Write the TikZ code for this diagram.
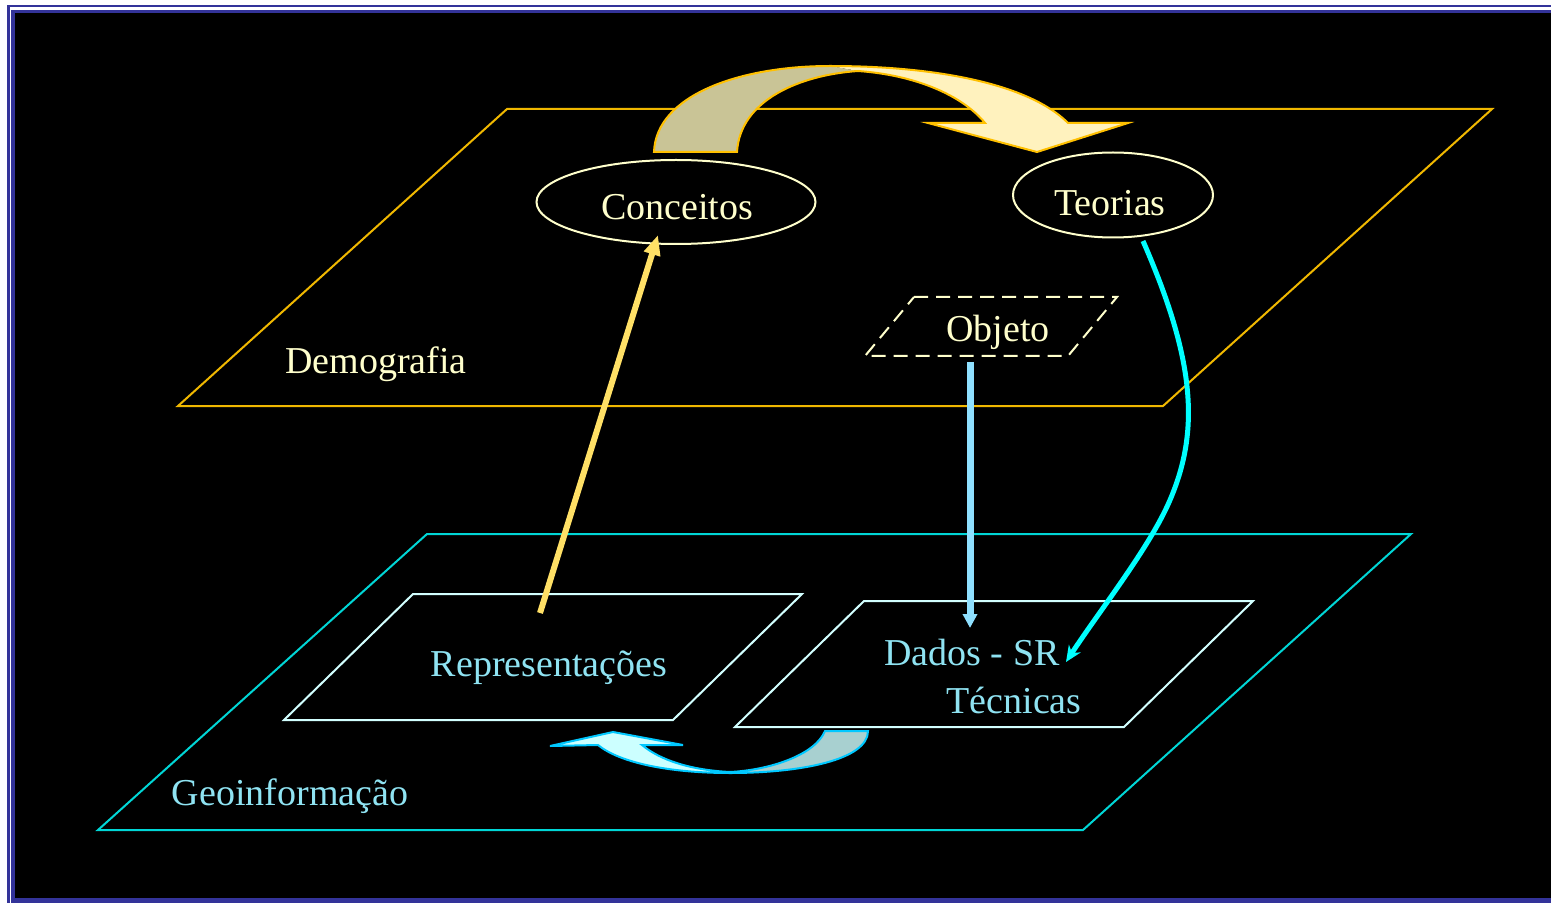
\documentclass[tikz,border=0pt]{standalone}
\usepackage{fontspec}
\setmainfont{Liberation Serif}
\usetikzlibrary{shapes.geometric,arrows.meta}
\definecolor{frameblue}{RGB}{51,51,153}
\definecolor{gold}{RGB}{240,184,0}
\definecolor{cream}{RGB}{255,255,204}
\definecolor{geocyan}{RGB}{0,214,214}
\definecolor{geotext}{RGB}{143,227,242}
\definecolor{subplane}{RGB}{210,255,255}
\definecolor{yarrow}{RGB}{255,224,102}
\definecolor{barrow}{RGB}{143,224,255}
\definecolor{tealarrow}{RGB}{0,255,255}
\definecolor{bigdark}{RGB}{201,196,150}
\definecolor{biglight}{RGB}{255,242,190}
\definecolor{bigline}{RGB}{255,192,0}
\definecolor{smdark}{RGB}{168,208,208}
\definecolor{smlight}{RGB}{204,255,255}
\definecolor{smline}{RGB}{0,200,255}
\begin{document}
\begin{tikzpicture}[x=0.5pt,y=-0.5pt,
  lbl/.style={font=\fontsize{19}{22}\selectfont, inner sep=0pt},
  demo/.style={lbl, text=cream},
  geo/.style={lbl, text=geotext},
  oval/.style={ellipse, draw=cream, line width=1pt, inner sep=0pt},
  plane/.style={line width=1pt, line join=miter},
]
\useasboundingbox (0,0) rectangle (1551,903);
\begin{scope}
\clip (0,0) rectangle (1551,903);
\fill[white] (0,0) rectangle (1551,903);
\fill[frameblue] (7,5) rectangle (1560,910);
\fill[white] (9.5,7.5) rectangle (1560,910);
\fill[frameblue] (11,10) rectangle (1560,910);
\fill[black] (15,13.5) rectangle (1560,898);
\end{scope}

% planes
\draw[plane, gold] (507,109) -- (1492,109) -- (1163,406) -- (178,406) -- cycle;
\draw[plane, geocyan] (427,534) -- (1411,534) -- (1083,830) -- (98,830) -- cycle;
\draw[plane, subplane] (413,594) -- (802,594) -- (673,720) -- (284,720) -- cycle;
\draw[plane, subplane] (864,601) -- (1253,601) -- (1124,727) -- (735,727) -- cycle;
\draw[line width=1pt, cream, dash pattern=on 7pt off 4pt] (914,297) -- (1117,297) -- (1068,356) -- (865,356) -- cycle;

% labels
\node[demo] (demografia) at (376,364) {Demografia};
\node[geo] (geoinfo) at (290,796) {Geoinformação};
\node[demo] (objeto) at (998,332) {Objeto};
\node[geo] (repr) at (549,668) {Representações};
\node[geo] (dados) at (972,652) {Dados - SR};
\node[geo] (tecnicas) at (1014,700) {Técnicas};

% ellipses
\node[oval, minimum width=139.5pt, minimum height=42pt] (conceitos) at (676,202) {};
\node[oval, minimum width=100pt, minimum height=42.5pt] (teorias) at (1113,195) {};
\node[demo] (conceitosTxt) at (677,207) {Conceitos};
\node[demo] (teoriasTxt) at (1110,203) {Teorias};

% big curved arrow (top)
\fill[bigdark] (654,152) .. controls (656,95) and (740,66) .. (830,66)
  -- (858,71) .. controls (800,75) and (740,100) .. (737,152) -- cycle;
\fill[biglight] (830,66) .. controls (940,66) and (1030,85) .. (1068,123)
  -- (1128,123) -- (1037,152) -- (928,123) -- (985,123)
  .. controls (962,95) and (915,75) .. (858,71) -- cycle;
\draw[bigline, line width=1pt, line join=miter]
  (654,152) .. controls (656,95) and (740,66) .. (830,66)
  .. controls (940,66) and (1030,85) .. (1068,123)
  -- (1128,123) -- (1037,152) -- (928,123) -- (985,123)
  .. controls (962,95) and (915,75) .. (858,71)
  .. controls (800,75) and (740,100) .. (737,152) -- cycle;

% small curved arrow (bottom)
\fill[smdark] (868,731) .. controls (868,760) and (800,773) .. (730,773)
  -- (730,772) .. controls (770,770) and (815,755) .. (825,731) -- cycle;
\fill[smlight] (730,773) .. controls (670,773) and (620,763) .. (598,745)
  -- (550,746) -- (613,732) -- (683,745) -- (642,745)
  .. controls (660,760) and (690,770) .. (730,772) -- cycle;
\draw[smline, line width=1pt, line join=miter]
  (868,731) .. controls (868,760) and (800,773) .. (730,773)
  .. controls (670,773) and (620,763) .. (598,745)
  -- (550,746) -- (613,732) -- (683,745) -- (642,745)
  .. controls (660,760) and (690,770) .. (730,772)
  .. controls (770,770) and (815,755) .. (825,731) -- cycle;

% connectors
\coordinate (reprTop) at (540,613);
\coordinate (concTip) at (658,235);
\coordinate (objBot) at (970,362);
\coordinate (dadosTop) at (970,628);
\coordinate (teorBot) at (1143,241);
\coordinate (dadosEnd) at (1066,662);
\draw[yarrow, line width=3pt, -{Triangle[length=10pt,width=8pt]}] (reprTop) -- (concTip);
\draw[barrow, line width=3.5pt, -{Triangle[length=7pt,width=7pt]}] (objBot) -- (dadosTop);
\draw[tealarrow, line width=2.5pt, -{Stealth[length=8pt,width=7pt]}] (teorBot)
  .. controls (1195,360) and (1200,430) .. (1170,500)
  .. controls (1150,547) and (1100,610) .. (dadosEnd);
\end{tikzpicture}
\end{document}
